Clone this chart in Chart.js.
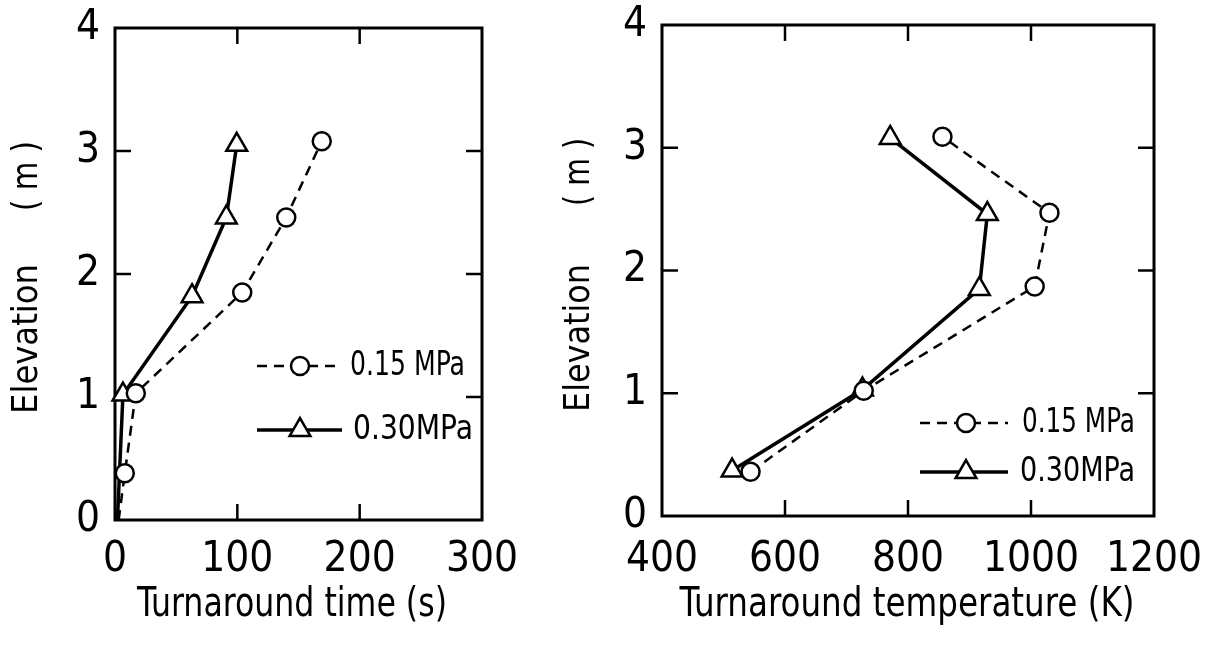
<!DOCTYPE html>
<html><head><meta charset="utf-8">
<script src="https://cdn.jsdelivr.net/npm/chart.js@4.4.1/dist/chart.umd.min.js"></script>
<style>
html,body{margin:0;padding:0;background:#fff;width:1220px;height:645px;overflow:hidden}
canvas{position:absolute;top:0}
#c1{left:0}
#c2{left:550px}
</style></head><body>
<canvas id="c1" width="550" height="645"></canvas>
<canvas id="c2" width="670" height="645"></canvas>
<script>
// ---- data ----
const seriesNames = ['0.15 MPa', '0.30MPa'];
const timeLowX  = [3, 8, 17, 104, 140, 169];
const timeLowY  = [0, 0.38, 1.03, 1.85, 2.46, 3.08];
const timeHighX = [2, 6.5, 63, 91, 99.5];
const timeHighY = [0, 1.02, 1.82, 2.46, 3.05];
const tempLowX  = [544, 728, 1006, 1030, 856];
const tempLowY  = [0.36, 1.02, 1.87, 2.47, 3.09];
const tempHighX = [514, 726, 916, 929, 771];
const tempHighY = [0.37, 1.03, 1.85, 2.46, 3.08];
const timeTicks = [0, 100, 200, 300];
const tempTicks = [400, 600, 800, 1000, 1200];
const elevTicks = [0, 1, 2, 3, 4];
const xTitleTime = 'Turnaround time (s)';
const xTitleTemp = 'Turnaround temperature (K)';
const yTitleMain = 'Elevation';
const yTitleUnit = '( m )';

function pts(xs, ys){ return xs.map((v,i)=>({x:v, y:ys[i]})); }
function radii(ys, r){ return ys.map(v => v === 0 ? 0 : r); }

const FAM = '"DejaVu Sans Condensed"';
const TICK_FONT = {family:'DejaVu Sans Condensed', size:42};

// draw text fitted to a given width (horizontal compression like the reference lettering)
function fitText(ctx, text, x, y, size, width, rot, align) {
  ctx.save();
  ctx.font = size + 'px ' + FAM;
  const w = ctx.measureText(text).width;
  ctx.translate(x, y);
  ctx.rotate(rot || 0);
  ctx.scale(width / w, 1);
  ctx.fillStyle = '#000';
  ctx.textAlign = align || 'center';
  ctx.textBaseline = 'middle';
  ctx.fillText(text, 0, 0);
  ctx.restore();
}

function drawMarker(ctx, style, x, y){
  ctx.save();
  ctx.fillStyle = '#fff'; ctx.strokeStyle = '#000'; ctx.lineWidth = 2.5; ctx.setLineDash([]);
  ctx.beginPath();
  if (style === 'circle') {
    ctx.arc(x, y, 9, 0, Math.PI*2);
  } else {
    const r = 12;
    for (let k = 0; k < 3; k++) {
      const a = k * 2*Math.PI/3;
      const px = x + Math.sin(a)*r, py = y - Math.cos(a)*r;
      if (k === 0) ctx.moveTo(px, py); else ctx.lineTo(px, py);
    }
    ctx.closePath();
  }
  ctx.fill(); ctx.stroke();
  ctx.restore();
}

const framePlugin = {
  id: 'frame',
  beforeDatasetsDraw(chart) {
    const {ctx, chartArea: a, scales: {x, y}} = chart;
    ctx.save();
    ctx.strokeStyle = '#000';
    ctx.lineWidth = 3;
    ctx.strokeRect(a.left, a.top, a.right - a.left, a.bottom - a.top);
    const L = 16;
    ctx.lineWidth = 2.5;
    const seg = (x1,y1,x2,y2)=>{ctx.beginPath();ctx.moveTo(x1,y1);ctx.lineTo(x2,y2);ctx.stroke();};
    x.ticks.forEach(t => {
      if (t.value === x.min || t.value === x.max) return;
      const p = x.getPixelForValue(t.value);
      seg(p, a.bottom, p, a.bottom - L);
      seg(p, a.top, p, a.top + L);
    });
    y.ticks.forEach(t => {
      if (t.value === y.min || t.value === y.max) return;
      const p = y.getPixelForValue(t.value);
      seg(a.left, p, a.left + L, p);
      seg(a.right, p, a.right - L, p);
    });
    ctx.restore();
  },
  afterDatasetsDraw(chart, args, opts) {
    const ctx = chart.ctx;
    const L = opts.legend;
    chart.data.datasets.forEach((ds, i) => {
      const yy = L.rows[i];
      ctx.save();
      ctx.strokeStyle = '#000';
      ctx.lineWidth = ds.borderWidth;
      ctx.setLineDash(ds.borderDash || []);
      ctx.beginPath(); ctx.moveTo(L.x0, yy); ctx.lineTo(L.x1, yy); ctx.stroke();
      ctx.restore();
      drawMarker(ctx, ds.pointStyle, L.mx, yy);
      fitText(ctx, ds.label, L.tx[i], yy, 34, L.tw[i], 0, 'left');
    });
    const T = opts.titles;
    fitText(ctx, T.xText, T.xcx, T.xcy, 40, T.xw, 0);
    fitText(ctx, yTitleMain, T.ycx, T.ymainCy, 36, T.ymainW, -Math.PI/2);
    fitText(ctx, yTitleUnit, T.ycx, T.yunitCy, 36, T.yunitW, -Math.PI/2);
  }
};

function zeroPad(s) { s.paddingTop = 0; s.paddingBottom = 0; s.paddingLeft = 0; s.paddingRight = 0; }

function makeChart(id, lowX, lowY, highX, highY, xr, xTicks, geom) {
  const ctx = document.getElementById(id);
  return new Chart(ctx, {
    type: 'scatter',
    data: {
      datasets: [
        {
          label: seriesNames[0],
          data: pts(lowX, lowY),
          showLine: true,
          borderColor: '#000', borderWidth: 2.5, borderDash: [10, 7],
          pointStyle: 'circle', pointRadius: radii(lowY, 9),
          pointBackgroundColor: '#fff', pointBorderColor: '#000', pointBorderWidth: 2.5,
          clip: false, tension: 0
        },
        {
          label: seriesNames[1],
          data: pts(highX, highY),
          showLine: true,
          borderColor: '#000', borderWidth: 3.5,
          pointStyle: 'triangle', pointRadius: radii(highY, 12),
          pointBackgroundColor: '#fff', pointBorderColor: '#000', pointBorderWidth: 2.5,
          clip: false, tension: 0
        }
      ]
    },
    options: {
      responsive: false,
      animation: false,
      events: [],
      layout: { padding: { top: geom.top, right: geom.right, left: 0, bottom: 0 } },
      plugins: { legend: { display: false }, tooltip: { enabled: false },
                 frame: { legend: geom.legend, titles: geom.titles } },
      scales: {
        x: {
          type: 'linear', min: xr[0], max: xr[1],
          afterBuildTicks: s => { s.ticks = xTicks.map(v => ({value: v})); },
          afterFit: s => { s.height = geom.xh; zeroPad(s); },
          grid: { display: false, drawTicks: false },
          border: { display: false },
          ticks: { color: '#000', font: TICK_FONT, padding: geom.xpad, maxRotation: 0, autoSkip: false,
                   callback: v => String(v) },
          title: { display: false }
        },
        y: {
          type: 'linear', min: 0, max: 4,
          afterBuildTicks: s => { s.ticks = elevTicks.map(v => ({value: v})); },
          afterFit: s => { s.width = geom.yw; zeroPad(s); },
          grid: { display: false, drawTicks: false },
          border: { display: false },
          ticks: { color: '#000', font: TICK_FONT, padding: 15, autoSkip: false,
                   callback: v => String(v) },
          title: { display: false }
        }
      }
    },
    plugins: [framePlugin]
  });
}

makeChart('c1', timeLowX, timeLowY, timeHighX, timeHighY, [0, 300], timeTicks,
  { top: 28, right: 68, yw: 115, xh: 125, xpad: 15,
    legend: { rows: [366, 430], x0: 257, x1: 342, mx: 300, tx: [350, 353], tw: [115, 120] },
    titles: { xText: xTitleTime, xcx: 292, xcy: 606, xw: 310,
              ycx: 28, ymainCy: 339, ymainW: 150, yunitCy: 176, yunitW: 70 } });
makeChart('c2', tempLowX, tempLowY, tempHighX, tempHighY, [400, 1200], tempTicks,
  { top: 25, right: 66, yw: 112, xh: 129, xpad: 19,
    legend: { rows: [423, 472], x0: 370, x1: 458, mx: 416, tx: [472, 470], tw: [113, 115] },
    titles: { xText: xTitleTemp, xcx: 357, xcy: 606, xw: 455,
              ycx: 30, ymainCy: 338, ymainW: 148, yunitCy: 172, yunitW: 68 } });
</script>
</body></html>
